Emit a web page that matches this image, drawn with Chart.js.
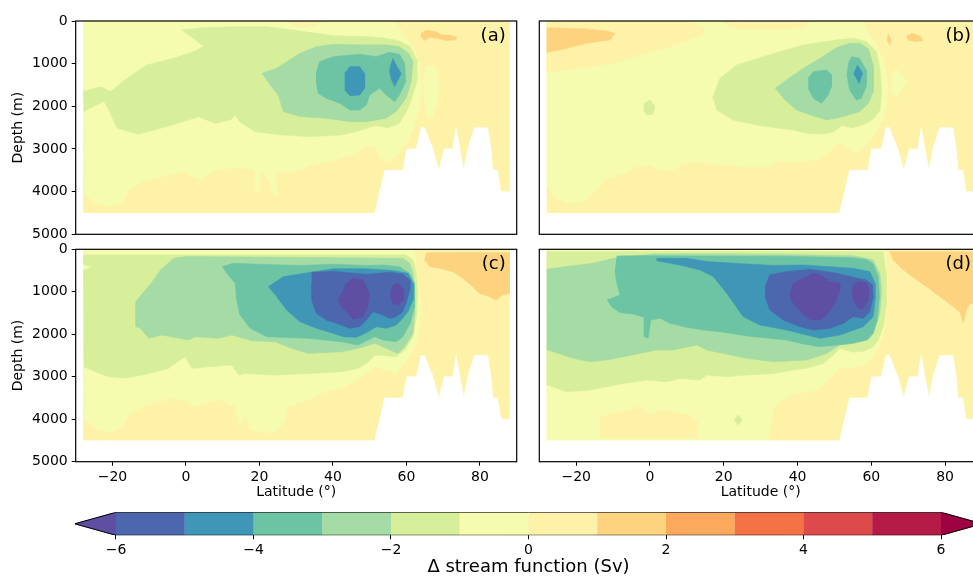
<!DOCTYPE html>
<html>
<head>
<meta charset="utf-8">
<script src="https://cdn.jsdelivr.net/npm/chart.js@4.4.1/dist/chart.umd.min.js"></script>
<style>
  html, body { margin: 0; padding: 0; background: #fff; overflow: hidden; }
  #fig { position: relative; width: 973px; height: 576px; overflow: hidden; }
  #fig canvas { position: absolute; }
</style>
</head>
<body>
<div id="fig">
  <canvas id="panel-a" width="530" height="240" style="left:0;top:0"></canvas>
  <canvas id="panel-b" width="470" height="240" style="left:520px;top:0"></canvas>
  <canvas id="panel-c" width="530" height="270" style="left:0;top:240px"></canvas>
  <canvas id="panel-d" width="470" height="270" style="left:520px;top:240px"></canvas>
  <canvas id="cbar" width="990" height="90" style="left:0;top:500px"></canvas>
</div>
<script>
// contour levels (Sv) and the colour of each band, keyed by the band's lower level
// (-7 = below -6, 6 = above 6)
const levels = [-6, -5, -4, -3, -2, -1, 0, 1, 2, 3, 4, 5, 6]
const binColors = {
  '-7': '#5e4fa2', '-6': '#4c67ad', '-5': '#3f96b7', '-4': '#6cc4a5', '-3': '#a5dba4',
  '-2': '#d7ef9b', '-1': '#f5fbaf', '0': '#fef2a9', '1': '#fed380', '2': '#fca95e',
  '3': '#f57246', '4': '#dd4a4c', '5': '#b51b47', '6': '#9e0142'
}
const latTicks = [-20, 0, 20, 40, 60, 80]
const depthTicks = [0, 1000, 2000, 3000, 4000, 5000]
const cbarTicks = [-6, -4, -2, 0, 2, 4, 6]

// [latitude, depth] outlines
const domain = [[-28, 0], [88, 0], [88, 4500], [-28, 4500]]
const bathymetry = [[51.4, 4500], [54.1, 3500], [59, 3500], [60.1, 3000], [62.7, 3000], [64, 2500], [64.9, 2500],
  [67.2, 3000], [68.8, 3500], [70.3, 3000], [72.6, 3000], [73.5, 2500], [75.6, 3500], [76.7, 3000], [78.5, 2500],
  [82.1, 2500], [83, 3000], [83.5, 3500], [84.8, 3500], [85.7, 4000], [90, 4000], [90, 5000], [-30, 5000], [-30, 4500]]

// each panel: [band, outline] painted in order
const panelA = [
  [0, domain],
  [-1, [[-28, 0], [57, 0], [59, 290], [61.8, 600], [63.6, 990], [64, 1540], [63.6, 2010], [62.7, 2320], [61.8, 2555], [60, 2870],
    [57.5, 3150], [55, 3300], [53, 3250], [51.5, 2950], [48.6, 2950], [45.9, 3100], [40.5, 3260], [35.1, 3335], [31.5, 3490],
    [24.2, 3570], [25.1, 4040], [24.2, 4120], [22.4, 3730], [20.6, 3490], [19.8, 4000], [19, 4000], [18.8, 3490], [15.2, 3430],
    [8, 3475], [4.3, 3730], [1.6, 3650], [-0.2, 3530], [-6.5, 3650], [-11.9, 3765], [-15.6, 3960], [-17.4, 4275], [-21, 4350],
    [-24.6, 4275], [-27.8, 4040], [-28, 4040]]],
  [0, [[28, 0], [37, 0], [35.5, 120], [31, 140], [28.5, 60]]],
  [-1, [[65.2, 1070], [67.5, 1030], [68.5, 1150], [68.8, 1540], [68.2, 2000], [66.8, 2300], [65.6, 2240], [64.8, 1930], [64.6, 1380]]],
  [1, [[64, 290], [65.4, 211], [68.1, 250], [69.5, 330], [71.7, 330], [73.7, 370], [73.4, 445], [70.8, 460], [68.5, 405],
    [66.3, 385], [64.9, 460], [64, 370]]],
  [-2, [[-28, 1650], [-23.2, 1540], [-20.5, 1650], [-16, 1343], [-10.6, 1030], [-3.3, 875], [2.1, 718], [4.8, 600], [2.1, 406],
    [-1.1, 211], [4.8, 156], [12.9, 133], [22, 133], [31, 234], [40.1, 344], [49.1, 367], [54, 400], [58, 470], [61, 600],
    [62.8, 900], [62.8, 1420], [61.5, 1810], [60, 2120], [58, 2400], [55, 2500], [51.4, 2450], [47.8, 2555], [42.3, 2670],
    [33.3, 2710], [26, 2670], [18.8, 2595], [14.5, 2350], [13.4, 2200], [12.5, 2300], [8, 2400], [3.4, 2243], [-3.8, 2440],
    [-12.9, 2650], [-18.7, 2515], [-21, 2086], [-22.3, 1874], [-27.8, 2124], [-28, 2124]]],
  [-3, [[20.6, 1226], [24.7, 1109], [31, 758], [35.5, 601], [40.1, 547], [49.1, 560], [54.5, 560], [58, 600], [60.5, 750],
    [61.8, 950], [61.3, 1421], [59.9, 1812], [57.2, 2124], [54.5, 2281], [49.1, 2359], [44.6, 2359], [38.2, 2281], [31, 2241],
    [26.5, 2124], [25.1, 1734], [22.9, 1500]]],
  [-4, [[35.4, 1226], [36.4, 953], [40.1, 836], [47.3, 781], [51.8, 836], [55.4, 734], [58.1, 781], [59.5, 992], [59.8, 1421],
    [58.1, 1734], [56.8, 1890], [54.5, 1734], [52.7, 1578], [50, 1734], [49.1, 1968], [47.3, 2085], [44.6, 2085], [41.9, 1929],
    [38.2, 1812], [36, 1695], [35.4, 1421]]],
  [-5, [[43.2, 1226], [44.6, 1070], [47.3, 1070], [48.6, 1226], [48.6, 1578], [47.3, 1734], [44.6, 1750], [43.2, 1617]]],
  [-5, [[56.3, 875], [57.6, 1100], [58.6, 1226], [57.6, 1400], [56.8, 1539], [55.8, 1350], [55.4, 1187], [55.8, 1000]]]
]

const panelB = [
  [0, domain],
  [-1, [[-28, 0], [57.7, 0], [59.5, 289], [61.8, 601], [63.6, 992], [64.5, 1539], [64.1, 2007], [63.2, 2320], [61.4, 2554],
    [59.1, 2866], [56, 3100], [54, 3000], [51.5, 2867], [47.9, 3101], [45.2, 3258], [35.2, 3298], [32.5, 3415], [24.4, 3415],
    [21.7, 3352], [19, 3375], [13.6, 3298], [9, 3336], [6.3, 3493], [2.7, 3493], [0, 3375], [-3.6, 3415], [-6.3, 3570],
    [-11.7, 3688], [-15.4, 4040], [-18.1, 4235], [-22.6, 4274], [-26.2, 4118], [-27.6, 3884], [-28, 3884]]],
  [0, [[-28, 0], [10, 0], [15, 150], [14, 330], [5.4, 601], [-3, 800], [-8.1, 953], [-17, 1080], [-28, 1203]]],
  [0, [[19.9, 0], [43.4, 0], [42, 150], [35, 200], [25, 190], [21, 120]]],
  [-1, [[65.5, 1187], [67, 1150], [69.6, 1400], [68.5, 1600], [66.5, 1812], [65.5, 1600]]],
  [1, [[-28, 156], [-17.2, 187], [-11.7, 234], [-9.5, 289], [-10.8, 445], [-17.2, 523], [-24.4, 680], [-28, 734]]],
  [1, [[69.5, 351], [71.3, 289], [73.5, 367], [74, 461], [72.2, 484], [69.9, 445]]],
  [1, [[64.5, 289], [65.4, 445], [65, 562], [64.2, 445]]],
  [-2, [[17, 1800], [18.1, 1539], [19, 1343], [23.5, 1031], [28, 914], [35.2, 718], [41.6, 562], [50.6, 445], [55.1, 406],
    [58.7, 484], [61.4, 718], [62.3, 1109], [62.8, 1656], [62.3, 2100], [60.5, 2300], [58, 2420], [55, 2500], [52, 2450],
    [49.7, 2600], [47, 2650], [42.5, 2633], [38.8, 2555], [35.2, 2516], [28.9, 2438], [22.6, 2320], [18.1, 2086]]],
  [-2, [[-1.6, 1929], [0, 1851], [1.4, 2007], [0.7, 2187], [-0.9, 2202], [-1.8, 2085]]],
  [-3, [[33.9, 1578], [37, 1382], [41.6, 1109], [46.1, 875], [50.6, 620], [54.2, 520], [56.9, 520], [59.2, 650], [60.5, 1031],
    [60.5, 1656], [59.2, 1929], [56.9, 2124], [52.4, 2241], [47.9, 2320], [43.4, 2202], [39.7, 2085], [36.1, 1812]]],
  [-4, [[42.9, 1343], [44.3, 1187], [47.9, 1148], [49.2, 1265], [49.2, 1539], [48.3, 1734], [46.5, 1929], [44.3, 1812], [42.9, 1578]]],
  [-4, [[54.6, 836], [56.8, 875], [58.6, 1148], [58.6, 1539], [57.3, 1812], [55.9, 1851], [54.1, 1617], [53.4, 1265], [53.9, 953]]],
  [-5, [[56.2, 1031], [57.6, 1226], [56.7, 1460], [55.2, 1226]]]
]

const panelC = [
  [0, domain],
  [-1, [[-28, 0], [62.2, 0], [62.7, 487], [64, 1350], [63.4, 1978], [61.8, 2371], [59.5, 2685], [57.2, 2920], [51.4, 2765],
    [49.6, 2883], [46.8, 3078], [42.3, 3275], [37.8, 3354], [33.3, 3549], [27.8, 3707], [26.9, 4060], [24.2, 4333], [17.4, 4256],
    [16.1, 3942], [14.7, 4178], [13.4, 3707], [9.8, 3549], [6.1, 3589], [1.6, 3707], [0.7, 3596], [-3.8, 3509], [-11.9, 3707],
    [-15.6, 3902], [-17.4, 4185], [-21, 4319], [-24.6, 4215], [-27.8, 3982], [-28, 3982]]],
  [1, [[64.9, 251], [65.5, 80], [76.2, 78], [88, 80], [88, 1036], [86.2, 1075], [84.4, 1193], [82.6, 1115], [79.8, 1036],
    [78, 879], [75.3, 683], [72.6, 526], [69, 447], [66.3, 408]]],
  [-2, [[-28, 133], [59.9, 133], [61.8, 251], [62.7, 565], [63.1, 958], [62.7, 1586], [61.8, 2057], [59.5, 2371], [57.2, 2528],
    [54, 2500], [51.4, 2490], [49.6, 2654], [46.8, 2803], [42.3, 2882], [33.3, 2921], [24.2, 2960], [16.1, 2921], [14.3, 2960],
    [12.5, 2725], [6.1, 2765], [1.6, 2803], [-0.2, 2529], [-1.1, 2568], [-4.7, 2803], [-11.9, 2960], [-16.5, 3031], [-21, 3000],
    [-24.6, 2883], [-27.8, 2765], [-28, 2765]]],
  [-1, [[-28, 369], [-26, 420], [-28, 490]]],
  [-3, [[-7, 487], [-3.3, 212], [0.3, 170], [59, 212], [60.9, 330], [61.8, 565], [62.2, 958], [62.2, 1507], [61.8, 1978],
    [59.5, 2292], [57.7, 2450], [55, 2350], [51.4, 2214], [46.8, 2333], [42.3, 2411], [33.3, 2450], [28.8, 2333], [24.2, 2176],
    [18, 2150], [12.5, 2018], [8.8, 2096], [2.5, 2058], [0.7, 2136], [-6.5, 2018], [-10.1, 2096], [-12.4, 1860], [-13.7, 1821],
    [-13.7, 1232], [-10, 850]]],
  [-4, [[9.8, 408], [12.9, 330], [22, 360], [31, 380], [40.1, 350], [49.1, 380], [53.6, 370], [58.1, 410], [60.9, 565],
    [62.2, 800], [62.2, 1350], [61, 1743], [59, 2057], [57.2, 2175], [53.6, 2135], [51.4, 2057], [46.8, 2254], [42.3, 2176],
    [33.3, 2096], [22, 2057], [17.5, 1860], [14.7, 1546], [13.8, 1193], [13.4, 800], [11.1, 565]]],
  [-5, [[22.4, 879], [26.5, 644], [31, 581], [35.5, 520], [40.1, 460], [49.1, 460], [56.3, 500], [60.4, 565], [61.8, 800],
    [61.8, 1193], [60.4, 1468], [59, 1625], [57.2, 1782], [54.5, 1860], [51.8, 1821], [49.1, 1963], [46.4, 2072], [42.8, 2057],
    [40.1, 1978], [35.5, 1860], [31, 1703], [27.4, 1429], [24.7, 1115]]],
  [-6, [[34.2, 540], [40.1, 520], [49.1, 590], [55.4, 540], [59, 580], [60.9, 722], [60.9, 958], [59.9, 1272], [59, 1468],
    [57.2, 1586], [55.4, 1625], [53.6, 1546], [50.9, 1468], [49.1, 1664], [47.3, 1821], [44.6, 1860], [41, 1743], [38.2, 1664],
    [35.5, 1507], [34.2, 1193], [34.2, 800]]],
  [-7, [[41.4, 1209], [43.7, 800], [45.5, 683], [48.2, 722], [50, 1036], [49.5, 1350], [48.2, 1586], [45.5, 1649], [43.7, 1468], [41.9, 1311]]],
  [-7, [[55.9, 879], [57.7, 800], [59.2, 958], [59.2, 1193], [57.7, 1311], [56.3, 1272], [55.6, 1075]]]
]

const panelD = [
  [0, domain],
  [-1, [[-28, 0], [63.7, 0], [64.1, 400], [64.1, 1350], [63.2, 2057], [61.9, 2292], [60.5, 2528], [58.7, 2724], [55, 2780],
    [51.5, 2803], [50.6, 4500], [-28, 4500]]],
  [0, [[-13.6, 4450], [-13.6, 3980], [-11.7, 3902], [-8.1, 3824], [-4.5, 3745], [-2.7, 3707], [0, 3902], [1.8, 3824], [4.5, 3785],
    [8.1, 3863], [10.8, 3902], [12.7, 4060], [12.7, 4450]]],
  [0, [[32.5, 4500], [33.4, 3824], [35.2, 3589], [38.8, 3431], [42.5, 3368], [45.2, 3337], [48.8, 3038], [51.5, 2803], [52, 4500]]],
  [1, [[65, 60], [88, 60], [88, 1250], [86.5, 1300], [85.8, 1429], [84.9, 1743], [84, 1468], [82.2, 1350], [78.6, 1115],
    [75, 879], [72.3, 722], [68.7, 487], [65.9, 251]]],
  [-2, [[-28, 55], [63.2, 55], [64, 565], [64, 1350], [63.2, 1821], [61.9, 2135], [60.5, 2292], [58, 2400], [55, 2420],
    [51.5, 2333], [49.7, 2490], [47, 2685], [42.5, 2803], [38.8, 2843], [33.4, 2921], [26.2, 2961], [20.8, 3000], [15.4, 2961],
    [13.6, 3078], [8.1, 3039], [4.5, 3118], [-0.9, 3078], [-7.2, 3157], [-16.3, 3314], [-22.6, 3353], [-27.6, 3196], [-28, 3196]]],
  [-2, [[22.8, 4020], [23.9, 3900], [25, 4020], [23.9, 4140]]],
  [-3, [[-28, 471], [-21.7, 393], [-15.4, 330], [-9.9, 212], [0.9, 110], [19, 110], [37, 120], [55.1, 150], [60.5, 251],
    [62.3, 565], [62.8, 958], [62.3, 1507], [60.5, 1978], [59.2, 2135], [55, 2200], [51.5, 2254], [47.9, 2450], [42.5, 2607],
    [33.4, 2647], [26.2, 2567], [19.9, 2450], [15.4, 2371], [12.7, 2254], [6.3, 2371], [1.8, 2371], [-2.7, 2450], [-7.2, 2529],
    [-11.7, 2607], [-16.3, 2647], [-20.8, 2567], [-27.6, 2371], [-28, 2371]]],
  [-4, [[-9, 157], [-3.6, 150], [9.9, 157], [37, 165], [55.1, 200], [58.7, 240], [60.5, 340], [61.9, 644], [62.2, 1115],
    [61.6, 1664], [60.5, 1978], [58.7, 2135], [55.1, 2214], [50.6, 2253], [46.1, 2292], [41.6, 2229], [37, 2135], [32.5, 2096],
    [28, 2057], [23.5, 2002], [19, 1939], [14.5, 1900], [9.9, 1837], [5.4, 1743], [2.7, 1625], [0.2, 1664], [-0.5, 2096],
    [-1.4, 2057], [-1.6, 1601], [-4.5, 1523], [-8.1, 1492], [-10.4, 1350], [-11.6, 1193], [-8.1, 1075], [-9, 800], [-9.5, 487]]],
  [-5, [[1.8, 212], [9.9, 212], [15.4, 290], [26.2, 345], [33.4, 380], [41.6, 369], [55.1, 447], [59.6, 526], [61, 800],
    [61, 1193], [60.5, 1586], [57.8, 1821], [51.5, 2017], [46.1, 2096], [37, 1900], [29.8, 1782], [25.3, 1586], [20.8, 1036],
    [17.2, 644], [13.6, 487], [8.1, 369], [1.8, 267]]],
  [-6, [[31.2, 879], [32.5, 604], [37, 526], [43.4, 471], [50.6, 565], [55.1, 659], [58.7, 722], [60.3, 840], [60.5, 1115],
    [59.6, 1468], [57.8, 1625], [55.1, 1586], [52.4, 1743], [48.8, 1860], [44.3, 1900], [40.7, 1821], [36.1, 1664], [32.5, 1429], [31.2, 1115]]],
  [-7, [[37.9, 1036], [38.8, 800], [42.5, 644], [44.3, 565], [46.1, 604], [48.8, 761], [51.3, 800], [51.5, 958], [50.1, 1272],
    [47.9, 1546], [46.1, 1664], [43.8, 1664], [41.6, 1546], [39.7, 1350], [38.1, 1193]]],
  [-7, [[55.1, 840], [56.5, 761], [58.7, 785], [59.4, 958], [59.2, 1193], [57.8, 1390], [56.5, 1390], [55.1, 1193], [54.7, 958]]]
]

Chart.defaults.font.family = "'DejaVu Sans', sans-serif"
Chart.defaults.font.size = 14
Chart.defaults.color = '#000'

const minus = v => String(v).replace('-', '\u2212')

function shape(pts, color, i) {
  return {
    data: pts.map(p => ({ x: p[0], y: p[1] })),
    showLine: true,
    fill: 'shape',
    backgroundColor: color,
    borderColor: color,
    borderWidth: 0.6,
    pointRadius: 0,
    pointHoverRadius: 0,
    tension: 0,
    order: -i
  }
}

const frame = {
  id: 'frame',
  afterDatasetsDraw(chart) {
    const a = chart.chartArea
    const ctx = chart.ctx
    ctx.save()
    ctx.strokeStyle = '#000'
    ctx.lineWidth = 1.2
    ctx.strokeRect(a.left, a.top, a.right - a.left, a.bottom - a.top)
    const tag = chart.options.plugins.frame.tag
    if (tag) {
      ctx.font = "18px 'DejaVu Sans', sans-serif"
      ctx.fillStyle = '#000'
      ctx.textAlign = 'right'
      ctx.textBaseline = 'middle'
      ctx.fillText(tag, a.right - 11, a.top + 15)
    }
    ctx.restore()
  }
}

function panel(id, tag, contours, showX, showY, padding) {
  const datasets = contours.map((c, i) => shape(c[1], binColors[c[0]], i))
  datasets.push(shape(bathymetry, '#ffffff', datasets.length))
  new Chart(document.getElementById(id), {
    type: 'scatter',
    data: { datasets },
    plugins: [frame],
    options: {
      responsive: false,
      animation: false,
      events: [],
      layout: { padding, autoPadding: false },
      plugins: { legend: { display: false }, tooltip: { enabled: false }, frame: { tag } },
      scales: {
        x: {
          type: 'linear', min: -30, max: 90, display: showX,
          afterBuildTicks: s => { s.ticks = latTicks.map(v => ({ value: v })) },
          ticks: { callback: minus, padding: 3, maxRotation: 0, autoSkip: false },
          grid: { drawOnChartArea: false, tickLength: 4, color: '#000' },
          border: { display: false },
          title: { display: true, text: 'Latitude (°)', padding: { top: 0, bottom: 9 } },
          afterFit: s => { if (showX) { s.height = 48.3; s.paddingLeft = 0; s.paddingRight = 0 } }
        },
        y: {
          type: 'linear', min: 0, max: 5000, reverse: true, display: showY,
          afterBuildTicks: s => { s.ticks = depthTicks.map(v => ({ value: v })) },
          ticks: { callback: v => String(v), padding: 4, autoSkip: false },
          grid: { drawOnChartArea: false, tickLength: 4, color: '#000' },
          border: { display: false },
          title: { display: true, text: 'Depth (m)', padding: { top: 9.6, bottom: 0 } },
          afterFit: s => { if (showY) { s.width = 75.7; s.paddingTop = 0; s.paddingBottom = 0 } }
        }
      }
    }
  })
}

panel('panel-a', '(a)', panelA, false, true, { left: 0, top: 21, right: 13.3, bottom: 5.7 })
panel('panel-b', '(b)', panelB, false, false, { left: 19.3, top: 21, right: 8, bottom: 5.7 })
panel('panel-c', '(c)', panelC, true, true, { left: 0, top: 9.3, right: 13.3, bottom: 0 })
panel('panel-d', '(d)', panelD, true, false, { left: 19.3, top: 9.3, right: 8, bottom: 0 })

// colour bar
const cbarSets = []
for (let i = 0; i < levels.length - 1; i++) {
  const lo = levels[i], hi = levels[i + 1]
  cbarSets.push(shape([[lo, 0], [hi, 0], [hi, 1], [lo, 1]], binColors[lo], cbarSets.length))
}
cbarSets.push(shape([[-6, 0], [-6.6, 0.5], [-6, 1]], binColors['-7'], cbarSets.length))
cbarSets.push(shape([[6, 0], [6.6, 0.5], [6, 1]], binColors['6'], cbarSets.length))
cbarSets.push({
  data: [[-6, 0], [-6.6, 0.5], [-6, 1], [6, 1], [6.6, 0.5], [6, 0], [-6, 0]].map(p => ({ x: p[0], y: p[1] })),
  showLine: true, fill: false, borderColor: '#000', borderWidth: 1, pointRadius: 0, tension: 0, order: -cbarSets.length
})

new Chart(document.getElementById('cbar'), {
  type: 'scatter',
  data: { datasets: cbarSets },
  options: {
    responsive: false,
    animation: false,
    events: [],
    layout: { padding: { left: 74.75, top: 12.3, right: 7.75, bottom: 0 }, autoPadding: false },
    plugins: { legend: { display: false }, tooltip: { enabled: false } },
    scales: {
      x: {
        type: 'linear', min: -6.6, max: 6.6,
        afterBuildTicks: s => { s.ticks = cbarTicks.map(v => ({ value: v })) },
        ticks: { callback: minus, padding: 3, maxRotation: 0, autoSkip: false },
        grid: { drawOnChartArea: false, tickLength: 4, color: '#000' },
        border: { display: false },
        title: { display: true, text: '\u0394 stream function (Sv)', font: { size: 18 }, padding: { top: 0, bottom: 12 } },
        afterFit: s => { s.height = 54.7; s.paddingLeft = 0; s.paddingRight = 0 }
      },
      y: { type: 'linear', min: 0, max: 1, display: false }
    }
  }
})
</script>
</body>
</html>
